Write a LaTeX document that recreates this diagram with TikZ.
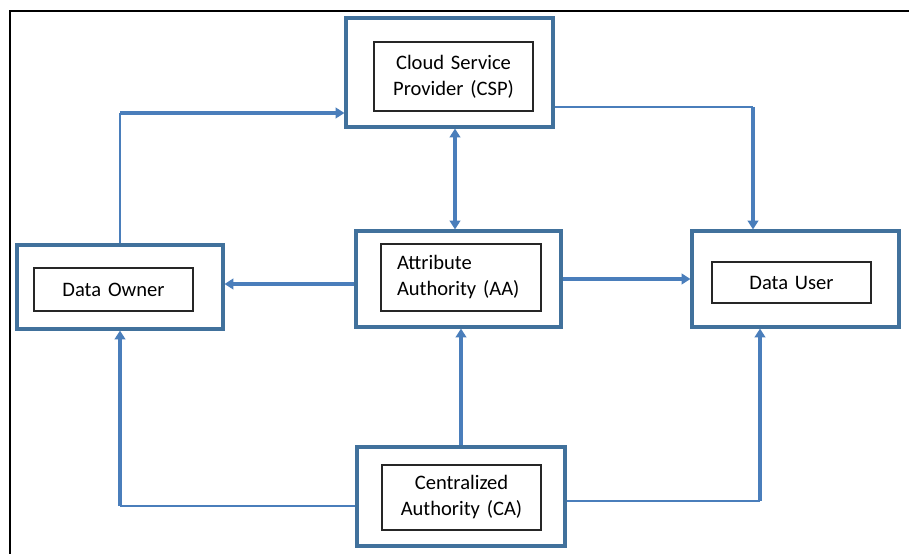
\documentclass[tikz,border=0pt]{standalone}
\usepackage{fontspec}
\setmainfont{Carlito}
\usepackage{tikz}
\usetikzlibrary{arrows.meta}
\definecolor{boxblue}{RGB}{65,113,156}
\definecolor{lineblue}{RGB}{74,126,187}
\tikzstyle{outer} = [draw=boxblue,line width=1.8pt,rectangle]
\tikzstyle{inner} = [draw=black!85,line width=0.8pt,rectangle,font=\fontsize{11.7}{14.8}\selectfont,align=center,text width=3.18cm,inner xsep=0pt]
\tikzstyle{link} = [draw=lineblue,line width=2pt]
\tikzstyle{thinlink} = [draw=lineblue,line width=1.1pt]
\tikzstyle{arrow} = [link,-{Triangle[length=5pt,width=6pt]}]
\tikzstyle{twoway} = [link,{Triangle[length=5pt,width=6pt]}-{Triangle[length=5pt,width=6pt]}]

\begin{document}
\begin{tikzpicture}[x=0.02cm,y=-0.02cm]
  \useasboundingbox (0,0) rectangle (909,554);
  % frame
  \draw[line width=1.6pt] (10,554) -- (10,11) -- (909,11);

  % outer boxes
  \node[outer,minimum width=4.14cm,minimum height=2.18cm] (csp) at (449.5,72.5) {};
  \node[outer,minimum width=4.12cm,minimum height=1.68cm] (do) at (120,287) {};
  \node[outer,minimum width=4.10cm,minimum height=1.92cm] (aa) at (458.5,279) {};
  \node[outer,minimum width=4.14cm,minimum height=1.92cm] (du) at (795.5,279) {};
  \node[outer,minimum width=4.16cm,minimum height=1.98cm] (ca) at (461,496.5) {};

  % labels
  \node[inner,minimum height=1.38cm] (csp1) at (453.5,76.5) {Cloud Service\\Provider (CSP)};
  \node[inner,minimum height=0.86cm] (do1) at (113.5,289.5) {Data Owner};
  \node[inner,align=left,text width=2.56cm,inner xsep=0.32cm,minimum height=1.34cm] (aa1) at (461,277.5) {Attribute\\Authority (AA)};
  \node[inner,minimum height=0.82cm] (du1) at (791.5,282.5) {Data User};
  \node[inner,minimum height=1.30cm] (ca1) at (461.5,497.5) {Centralized\\Authority (CA)};

  % bends
  \coordinate (doUp) at (120,113);
  \coordinate (duUp) at (753,107);
  \coordinate (caL) at (120,506);
  \coordinate (caR) at (760,501);

  \draw[thinlink] (do.north) -- (doUp);
  \draw[arrow] (doUp) -- (doUp -| csp.west);
  \draw[thinlink] (csp.east |- duUp) -- (duUp);
  \draw[arrow] (duUp) -- (duUp |- du.north);
  \draw[twoway] ([xshift=0.11cm]csp.south) -- ([xshift=-0.07cm]aa.north);
  \draw[arrow] ([yshift=-0.1cm]aa.west) -- ([yshift=-0.1cm]aa.west -| do.east);
  \draw[arrow] (aa.east) -- (du.west);
  \draw[arrow] (ca.north) -- (ca.north |- aa.south);
  \draw[thinlink] (ca.west |- caL) -- (caL);
  \draw[arrow] (caL) -- (do.south);
  \draw[thinlink] (ca.east |- caR) -- (caR);
  \draw[arrow] (caR) -- (caR |- du.south);
\end{tikzpicture}
\end{document}
